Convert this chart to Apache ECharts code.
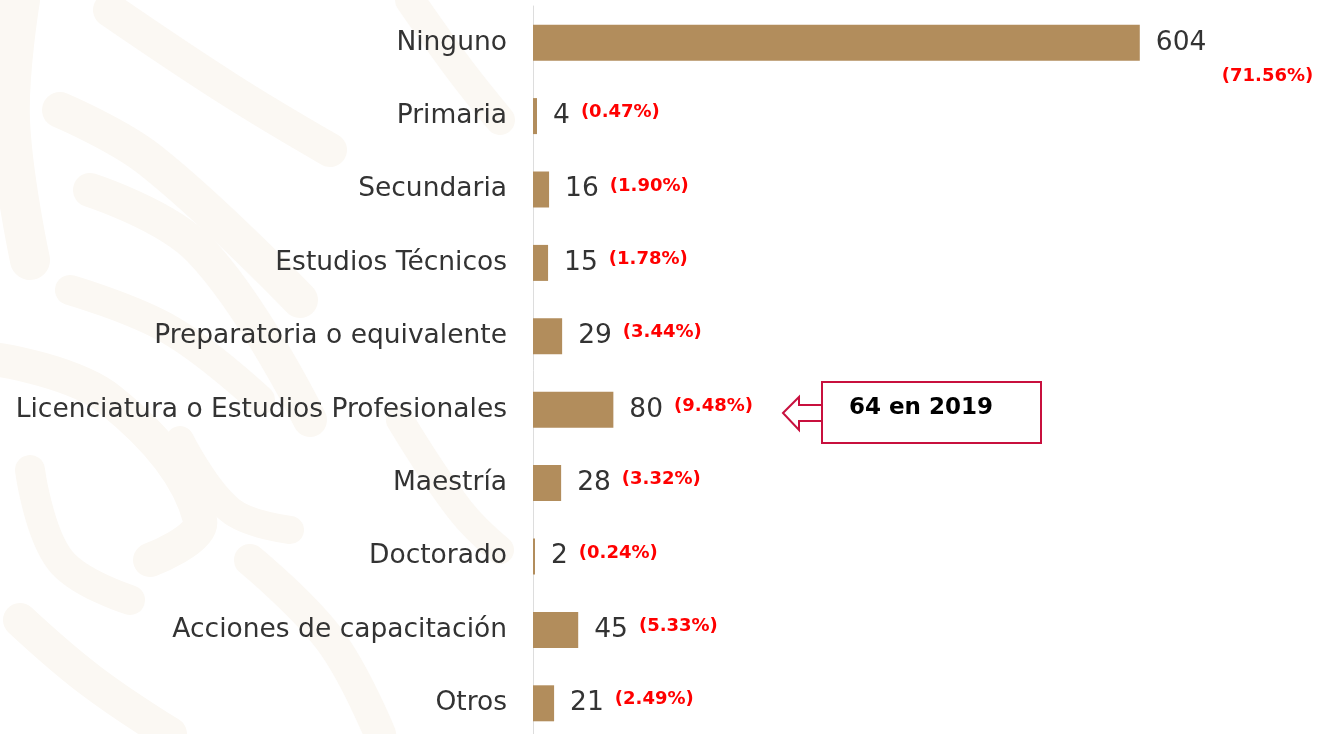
<!DOCTYPE html>
<html><head><meta charset="utf-8">
<script src="https://cdn.jsdelivr.net/npm/echarts@6/dist/echarts.min.js"></script>
<style>html,body{margin:0;padding:0;background:#fff}#c{width:1319px;height:734px}</style>
</head><body><div id="c"></div>
<script>
const categories = ["Ninguno","Primaria","Secundaria","Estudios Técnicos","Preparatoria o equivalente","Licenciatura o Estudios Profesionales","Maestría","Doctorado","Acciones de capacitación","Otros"];
const values = [604,4,16,15,29,80,28,2,45,21];
const percents = ["(71.56%)","(0.47%)","(1.90%)","(1.78%)","(3.44%)","(9.48%)","(3.32%)","(0.24%)","(5.33%)","(2.49%)"];
const noteText = "64 en 2019";

const FONT = "DejaVu Sans";
const chart = echarts.init(document.getElementById('c'), null, {renderer:'canvas'});
const barColor = '#b28d5c';
const wm = '#fbf8f3';
const data = values.map((v,i)=>{
  const item = {value:v};
  if(i===0){
    item.label = {formatter: '{v|{c}}'};
  }
  return item;
});
function band(pts, w){
  return {type:'polyline', z:-10, silent:true, shape:{points:pts, smooth:0.4},
    style:{stroke:wm, lineWidth:w, lineCap:'round', lineJoin:'round', fill:null}};
}
const option = {
  backgroundColor:'#ffffff',
  animation:false,
  grid:{left:533, top:6, right:133, height:734, outerBoundsMode:'none', containLabel:false},
  xAxis:{type:'value', min:0, max:650, show:false},
  yAxis:{type:'category', data:categories, inverse:true,
    axisLine:{show:true, lineStyle:{color:'#dddddd', width:1}},
    axisTick:{show:false},
    axisLabel:{margin:26, color:'#333333', fontFamily:FONT, fontSize:26.5, fontWeight:'normal'}
  },
  series:[{
    type:'bar', data:data, barWidth:36, itemStyle:{color:barColor},
    label:{show:true, position:'right', distance:16,
      formatter:(p)=>'{v|'+p.value+'}{p|'+percents[p.dataIndex]+'}',
      rich:{
        v:{color:'#333333', fontFamily:FONT, fontSize:26.5},
        p:{color:'#ff0000', fontFamily:FONT, fontSize:18, fontWeight:'bold', padding:[0,0,7,11]}
      }
    }
  },{
    type:'scatter', data:[[values[0], categories[0]]], symbolSize:0, silent:true,
    itemStyle:{opacity:1},
    label:{show:true, position:'right', offset:[77,34], formatter:()=>percents[0],
      color:'#ff0000', fontFamily:FONT, fontSize:18, fontWeight:'bold'}
  }],
  graphic:[
    band([[20,0],[10,120],[30,260]], 40),
    band([[110,10],[230,90],[330,150]], 34),
    band([[60,110],[150,160],[300,300]], 36),
    band([[90,190],[200,250],[310,420]], 34),
    band([[70,290],[170,330],[260,400]], 30),
    band([[0,360],[110,400],[200,520],[150,560]], 34),
    band([[30,470],[60,560],[130,600]], 30),
    band([[180,440],[230,510],[290,530]], 28),
    band([[20,620],[90,680],[170,734]], 34),
    band([[250,560],[330,640],[380,734]], 32),
    band([[400,420],[460,510],[500,550]], 28),
    band([[410,0],[460,70],[500,120]], 30),
    {type:'polygon', shape:{points:[[783,413],[799,397],[799,405],[823,405],[823,421],[799,421],[799,430]]},
     style:{fill:'#ffffff', stroke:'#c8103e', lineWidth:2}},
    {type:'rect', shape:{x:822, y:382, width:219, height:61},
     style:{fill:'#ffffff', stroke:'#c8103e', lineWidth:2}},
    {type:'text', x:921, y:408, style:{text:noteText, fill:'#000000', font:'bold 23px "'+FONT+'"', textAlign:'center', textVerticalAlign:'middle'}}
  ]
};
chart.setOption(option);
</script></body></html>
